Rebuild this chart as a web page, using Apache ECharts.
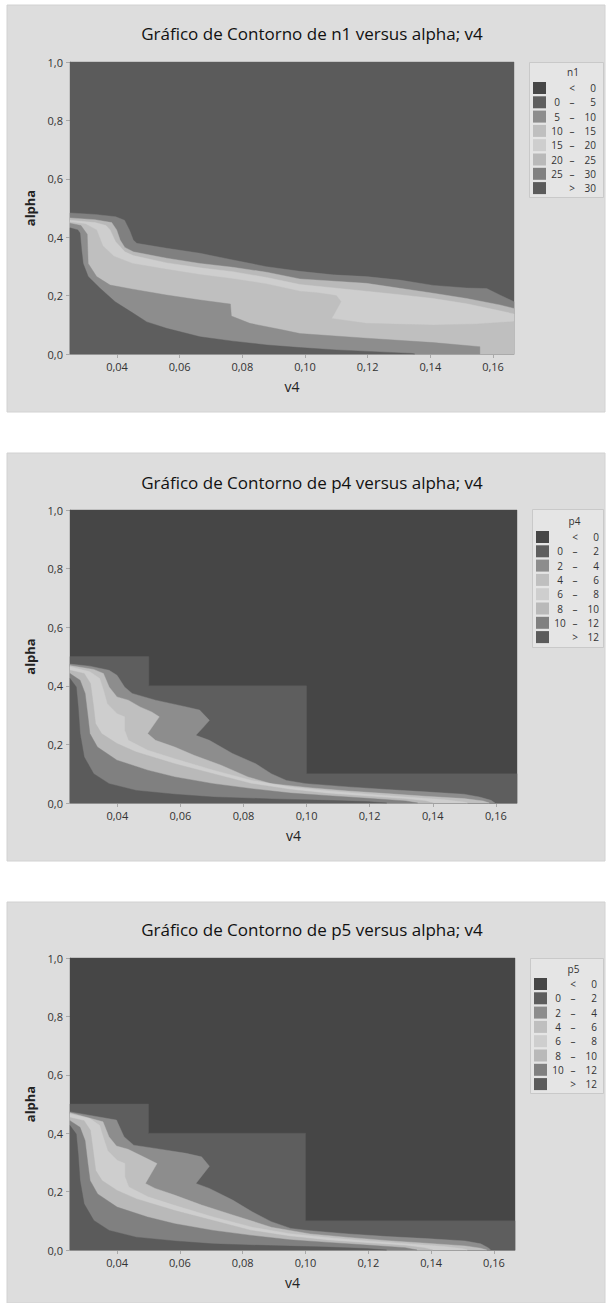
<!DOCTYPE html>
<html>
<head>
<meta charset="utf-8">
<script src="https://cdn.jsdelivr.net/npm/echarts@6/dist/echarts.min.js"></script>
<style>
  html, body { margin: 0; padding: 0; background: #ffffff; }
  #chart { width: 608px; height: 1303px; }
</style>
</head>
<body>
<div id="chart"></div>
<script>
// ---- axes ----
const v4Range = [0.025, 0.1667];
const alphaRange = [0, 1];
const v4Ticks = [0.04, 0.06, 0.08, 0.10, 0.12, 0.14, 0.16];
const alphaTicks = [0, 0.2, 0.4, 0.6, 0.8, 1.0];

// ---- contour level breaks ----
const n1Breaks = [0, 5, 10, 15, 20, 25, 30];
const p4Breaks = [0, 2, 4, 6, 8, 10, 12];
const p5Breaks = [0, 2, 4, 6, 8, 10, 12];

// ---- n1: upper edge of each band, as [v4, alpha] ----
const n1_gt30 = [[0.025, 1.0], [0.1667, 1.0]];
const n1_25_30 = [[0.025,0.483],[0.033,0.478],[0.0396,0.47],[0.0424,0.458],[0.044,0.424],[0.0452,0.39],[0.0463,0.379],[0.0559,0.362],[0.0665,0.345],[0.077,0.322],[0.0878,0.299],[0.0984,0.283],[0.109,0.271],[0.1196,0.265],[0.1303,0.253],[0.141,0.235],[0.1516,0.226],[0.158,0.224],[0.1622,0.202],[0.1667,0.179]];
const n1_20_25 = [[0.025,0.466],[0.033,0.46],[0.0383,0.45],[0.0399,0.425],[0.041,0.39],[0.0425,0.365],[0.0452,0.35],[0.0559,0.328],[0.0665,0.31],[0.077,0.297],[0.0878,0.28],[0.0984,0.257],[0.1196,0.242],[0.1303,0.225],[0.141,0.208],[0.1516,0.19],[0.1622,0.168],[0.1667,0.156]];
const n1_15_20 = [[0.025,0.458],[0.033,0.45],[0.0365,0.44],[0.0378,0.425],[0.0395,0.385],[0.0425,0.35],[0.0452,0.337],[0.0559,0.312],[0.0665,0.295],[0.077,0.282],[0.0878,0.262],[0.0984,0.238],[0.1196,0.215],[0.1303,0.203],[0.141,0.19],[0.1516,0.172],[0.1622,0.148],[0.1667,0.137]];
const n1_10_15 = [[0.025,0.452],[0.03,0.445],[0.0335,0.425],[0.0355,0.37],[0.039,0.335],[0.045,0.31],[0.0559,0.29],[0.0665,0.272],[0.077,0.258],[0.0878,0.24],[0.0984,0.215],[0.104,0.21],[0.11,0.2],[0.1115,0.18],[0.1095,0.14],[0.1085,0.122],[0.1196,0.105],[0.141,0.099],[0.155,0.103],[0.1667,0.111]];
const n1_5_10 = [[0.025,0.448],[0.0285,0.44],[0.0305,0.41],[0.0308,0.31],[0.0335,0.265],[0.0378,0.236],[0.045,0.222],[0.0558,0.202],[0.0665,0.185],[0.0762,0.171],[0.0765,0.13],[0.0824,0.105],[0.0931,0.082],[0.0984,0.07],[0.1197,0.054],[0.141,0.039],[0.1558,0.025],[0.1558,0]];
const n1_0_5 = [[0.025,0.432],[0.0275,0.425],[0.0282,0.414],[0.0287,0.356],[0.0292,0.31],[0.0308,0.265],[0.0346,0.225],[0.0394,0.179],[0.0451,0.14],[0.0495,0.11],[0.0558,0.088],[0.0665,0.059],[0.077,0.044],[0.0878,0.031],[0.0984,0.022],[0.11,0.014],[0.122,0.008],[0.134,0.002],[0.135,0]];

// ---- p4 ----
const p4_lt0 = [[0.025, 1.0], [0.1667, 1.0]];
const p4_0_2 = [[0.025,0.5],[0.05,0.5],[0.05,0.4],[0.10,0.4],[0.10,0.1],[0.1667,0.1]];
const p4_2_4 = [[0.025,0.474],[0.0313,0.467],[0.0374,0.453],[0.0399,0.436],[0.0423,0.396],[0.0447,0.374],[0.0521,0.351],[0.0619,0.328],[0.0661,0.317],[0.0692,0.282],[0.0674,0.26],[0.0649,0.231],[0.0692,0.214],[0.0765,0.169],[0.0839,0.134],[0.0888,0.1],[0.0936,0.077],[0.0998,0.066],[0.1132,0.055],[0.1254,0.046],[0.1377,0.038],[0.1499,0.03],[0.1548,0.0205],[0.1585,0.009],[0.1597,0]];
const p4_4_6 = [[0.025,0.469],[0.0325,0.456],[0.0356,0.442],[0.0374,0.396],[0.0399,0.362],[0.0435,0.351],[0.0472,0.328],[0.0509,0.311],[0.0533,0.294],[0.0496,0.237],[0.0521,0.214],[0.0582,0.191],[0.0643,0.163],[0.0729,0.129],[0.0814,0.089],[0.0888,0.066],[0.101,0.052],[0.1132,0.041],[0.1254,0.032],[0.1377,0.023],[0.1499,0.015],[0.156,0.007],[0.1579,0]];
const p4_6_8 = [[0.025,0.465],[0.0313,0.448],[0.0344,0.425],[0.0356,0.385],[0.0368,0.339],[0.0399,0.305],[0.0423,0.294],[0.0423,0.248],[0.0435,0.214],[0.0496,0.18],[0.0582,0.151],[0.0704,0.112],[0.0826,0.077],[0.0949,0.055],[0.1071,0.041],[0.1193,0.03],[0.1315,0.0205],[0.1438,0.011],[0.1499,0.003],[0.151,0]];
const p4_8_10 = [[0.025,0.453],[0.0295,0.442],[0.0315,0.408],[0.0325,0.328],[0.0331,0.271],[0.035,0.237],[0.0399,0.203],[0.046,0.174],[0.0582,0.134],[0.0704,0.1],[0.0826,0.066],[0.0949,0.046],[0.1071,0.032],[0.1193,0.023],[0.1315,0.014],[0.1377,0.007],[0.1401,0]];
const p4_10_12 = [[0.025,0.442],[0.0282,0.419],[0.0298,0.374],[0.0307,0.294],[0.0313,0.237],[0.0337,0.191],[0.0399,0.146],[0.0496,0.112],[0.0582,0.089],[0.0704,0.066],[0.0826,0.049],[0.0949,0.034],[0.1071,0.025],[0.1193,0.016],[0.1315,0.007],[0.1352,0]];
const p4_gt12 = [[0.025,0.425],[0.027,0.396],[0.0276,0.328],[0.0282,0.237],[0.0295,0.157],[0.0325,0.1],[0.0374,0.066],[0.046,0.043],[0.0582,0.03],[0.0704,0.0205],[0.0888,0.014],[0.1071,0.009],[0.1193,0.005],[0.1254,0]];

// ---- p5 ----
const p5_lt0 = [[0.025, 1.0], [0.1667, 1.0]];
const p5_0_2 = [[0.025,0.5],[0.05,0.5],[0.05,0.4],[0.10,0.4],[0.10,0.1],[0.1667,0.1]];
const p5_2_4 = [[0.025,0.473],[0.0398,0.445],[0.0422,0.388],[0.0453,0.359],[0.0521,0.348],[0.062,0.331],[0.0669,0.319],[0.0694,0.287],[0.0651,0.228],[0.0694,0.211],[0.0768,0.171],[0.083,0.131],[0.0891,0.097],[0.0953,0.074],[0.1015,0.066],[0.1138,0.055],[0.1262,0.046],[0.1385,0.039],[0.1509,0.031],[0.1558,0.021],[0.1583,0.007],[0.1589,0]];
const p5_4_6 = [[0.025,0.47],[0.0355,0.439],[0.0374,0.388],[0.0398,0.356],[0.0435,0.345],[0.0484,0.319],[0.0527,0.296],[0.049,0.228],[0.0521,0.211],[0.0583,0.188],[0.0669,0.154],[0.0768,0.12],[0.0891,0.078],[0.1015,0.055],[0.1138,0.043],[0.1262,0.032],[0.1385,0.023],[0.1509,0.014],[0.1558,0.006],[0.1577,0]];
const p5_6_8 = [[0.025,0.466],[0.0313,0.45],[0.0344,0.427],[0.0356,0.385],[0.037,0.34],[0.04,0.307],[0.0425,0.296],[0.0425,0.25],[0.0437,0.216],[0.0498,0.182],[0.0585,0.152],[0.0706,0.113],[0.083,0.078],[0.095,0.056],[0.1075,0.042],[0.1195,0.031],[0.132,0.021],[0.144,0.012],[0.1502,0.004],[0.1515,0]];
const p5_8_10 = [[0.025,0.454],[0.0295,0.443],[0.0315,0.41],[0.0325,0.33],[0.0332,0.272],[0.0352,0.238],[0.04,0.204],[0.0462,0.175],[0.0584,0.135],[0.0706,0.101],[0.0828,0.067],[0.095,0.047],[0.1073,0.033],[0.1195,0.024],[0.1318,0.015],[0.138,0.007],[0.1405,0]];
const p5_10_12 = [[0.025,0.443],[0.0282,0.42],[0.0298,0.375],[0.0307,0.295],[0.0314,0.238],[0.0338,0.192],[0.04,0.147],[0.0497,0.113],[0.0584,0.09],[0.0706,0.067],[0.0828,0.05],[0.095,0.035],[0.1073,0.026],[0.1195,0.017],[0.1318,0.008],[0.1355,0]];
const p5_gt12 = [[0.025,0.426],[0.027,0.397],[0.0276,0.329],[0.0282,0.238],[0.0295,0.158],[0.0326,0.101],[0.0375,0.067],[0.0461,0.044],[0.0584,0.031],[0.0706,0.021],[0.089,0.015],[0.1073,0.01],[0.1195,0.005],[0.1258,0]];

// ---- styles ----
const FONT = '"Open Sans", "Noto Sans", sans-serif';
const grayRamp = ['#464646', '#5e5e5e', '#8d8d8d', '#bfbfbf', '#cecece', '#b9b9b9', '#808080', '#5b5b5b'];

function bandNames(b) {
  const out = ['< ' + b[0]];
  for (let i = 0; i < b.length - 1; i++) out.push(b[i] + ' – ' + b[i + 1]);
  out.push('> ' + b[b.length - 1]);
  return out;
}

// each panel: bands listed in painting order as [legend index, upper edge]
const panels = [
  {
    title: 'Gráfico de Contorno de n1 versus alpha; v4', key: 'n1', names: bandNames(n1Breaks),
    layers: [[7, n1_gt30], [6, n1_25_30], [5, n1_20_25], [4, n1_15_20], [3, n1_10_15], [2, n1_5_10], [1, n1_0_5], [0, null]],
    bg: [7, 5, 598, 407], grid: [70, 62, 444, 292], titleY: 22,
    box: [529, 62, 74, 135], legendLeft: 533, legendTop: 82, keyY: 66, rightEdge: false
  },
  {
    title: 'Gráfico de Contorno de p4 versus alpha; v4', key: 'p4', names: bandNames(p4Breaks),
    layers: [[0, p4_lt0], [1, p4_0_2], [2, p4_2_4], [3, p4_4_6], [4, p4_6_8], [5, p4_8_10], [6, p4_10_12], [7, p4_gt12]],
    bg: [7, 453, 598, 408], grid: [70, 510, 447, 293], titleY: 471,
    box: [532, 509, 71, 138], legendLeft: 536, legendTop: 531, keyY: 515, rightEdge: false
  },
  {
    title: 'Gráfico de Contorno de p5 versus alpha; v4', key: 'p5', names: bandNames(p5Breaks),
    layers: [[0, p5_lt0], [1, p5_0_2], [2, p5_2_4], [3, p5_4_6], [4, p5_6_8], [5, p5_8_10], [6, p5_10_12], [7, p5_gt12]],
    bg: [7, 902, 598, 401], grid: [70, 958, 445, 292], titleY: 918,
    box: [530, 958, 73, 135], legendLeft: 534, legendTop: 978, keyY: 963, rightEdge: true
  }
];

function regionSeries(name, edge, gi, color) {
  const ring = edge ? edge.concat([[edge[edge.length - 1][0], 0], [edge[0][0], 0]]) : [];
  return {
    type: 'custom', name: name, xAxisIndex: gi, yAxisIndex: gi,
    data: edge || [], encode: { x: 0, y: 1 }, silent: true,
    itemStyle: { color: color },
    renderItem: function (params, api) {
      if (params.dataIndex !== 0) return null;
      return {
        type: 'polygon',
        shape: { points: ring.map(function (p) { return api.coord(p); }) },
        style: { fill: color, stroke: color, lineWidth: 0.4 }
      };
    }
  };
}

function legendFormatter(name) {
  const parts = name.split(' ');
  if (parts.length === 2) return '{l|}{d|' + parts[0] + '}{r|' + parts[1] + '}';
  return '{l|' + parts[0] + '}{d|–}{r|' + parts[2] + '}';
}

const option = {
  animation: false,
  textStyle: { fontFamily: FONT },
  title: [], grid: [], xAxis: [], yAxis: [], legend: [], series: [], graphic: []
};

panels.forEach(function (pn, gi) {
  option.graphic.push({
    type: 'rect', z: -10, silent: true,
    shape: { x: pn.bg[0], y: pn.bg[1], width: pn.bg[2], height: pn.bg[3] },
    style: { fill: '#dddddd', stroke: '#d2d2d2', lineWidth: 1 }
  });
  option.graphic.push({
    type: 'rect', z: -9, silent: true,
    shape: { x: pn.box[0] + 0.5, y: pn.box[1] + 0.5, width: pn.box[2], height: pn.box[3] },
    style: { fill: '#e5e5e5', stroke: '#c9c9c9', lineWidth: 1 }
  });
  option.title.push({
    text: pn.title, left: 312, top: pn.titleY, textAlign: 'center', padding: 0,
    textStyle: { fontFamily: FONT, fontSize: 17, fontWeight: 'normal', color: '#111111', lineHeight: 22 }
  });
  option.title.push({
    text: pn.key, left: pn.box[0] + pn.box[2] / 2 + 7, top: pn.keyY, textAlign: 'center', padding: 0,
    textStyle: { fontFamily: FONT, fontSize: 10, fontWeight: 'normal', color: '#333333', lineHeight: 12 }
  });
  option.grid.push({ left: pn.grid[0], top: pn.grid[1], width: pn.grid[2], height: pn.grid[3], containLabel: false });
  option.xAxis.push({
    type: 'value', gridIndex: gi, min: v4Range[0], max: v4Range[1],
    name: 'v4', nameLocation: 'middle', nameGap: 25,
    nameTextStyle: { fontFamily: FONT, fontSize: 14, color: '#222222' },
    axisLine: { show: true, onZero: false, lineStyle: { color: '#a9a9a9', width: 1 } },
    axisTick: { show: true, length: 4, customValues: v4Ticks, lineStyle: { color: '#a9a9a9' } },
    axisLabel: {
      customValues: v4Ticks, margin: 7, fontFamily: FONT, fontSize: 11, color: '#333333',
      formatter: function (v) { return v.toFixed(2).replace('.', ','); }
    },
    splitLine: { show: false }
  });
  option.yAxis.push({
    type: 'value', gridIndex: gi, min: alphaRange[0], max: alphaRange[1], interval: 0.2,
    name: 'alpha', nameLocation: 'middle', nameGap: 30,
    nameTextStyle: { fontFamily: FONT, fontSize: 13, fontWeight: 'bold', color: '#222222' },
    axisLine: { show: true, lineStyle: { color: '#a9a9a9', width: 1 } },
    axisTick: { show: true, length: 4, lineStyle: { color: '#a9a9a9' } },
    axisLabel: {
      margin: 7, fontFamily: FONT, fontSize: 11, color: '#333333',
      formatter: function (v) { return v.toFixed(1).replace('.', ','); }
    },
    splitLine: { show: false }
  });
  pn.layers.forEach(function (ly) {
    option.series.push(regionSeries(pn.names[ly[0]], ly[1], gi, grayRamp[ly[0]]));
  });
  if (pn.rightEdge) {
    // thin frame line along the right end of the v4 axis
    const last = option.series[option.series.length - 1];
    last.markLine = {
      silent: true, symbol: ['none', 'none'], label: { show: false },
      lineStyle: { color: '#a4a4a4', type: 'solid', width: 1.5 },
      data: [{ xAxis: v4Range[1] - 0.0004 }]
    };
  }
  option.legend.push({
    data: pn.names, orient: 'vertical', left: pn.legendLeft, top: pn.legendTop,
    padding: 0, itemWidth: 13, itemHeight: 12, itemGap: 2.3, icon: 'rect',
    selectedMode: false,
    formatter: legendFormatter,
    textStyle: {
      fontFamily: FONT, fontSize: 10, color: '#333333', lineHeight: 12,
      rich: {
        l: { width: 12, align: 'right', fontSize: 10, fontFamily: FONT, color: '#333333' },
        d: { width: 18, align: 'center', fontSize: 10, fontFamily: FONT, color: '#333333' },
        r: { width: 15, align: 'right', fontSize: 10, fontFamily: FONT, color: '#333333' }
      }
    }
  });
});

const chart = echarts.init(document.getElementById('chart'), null, { renderer: 'svg', width: 608, height: 1303 });
chart.setOption(option);
</script>
</body>
</html>
